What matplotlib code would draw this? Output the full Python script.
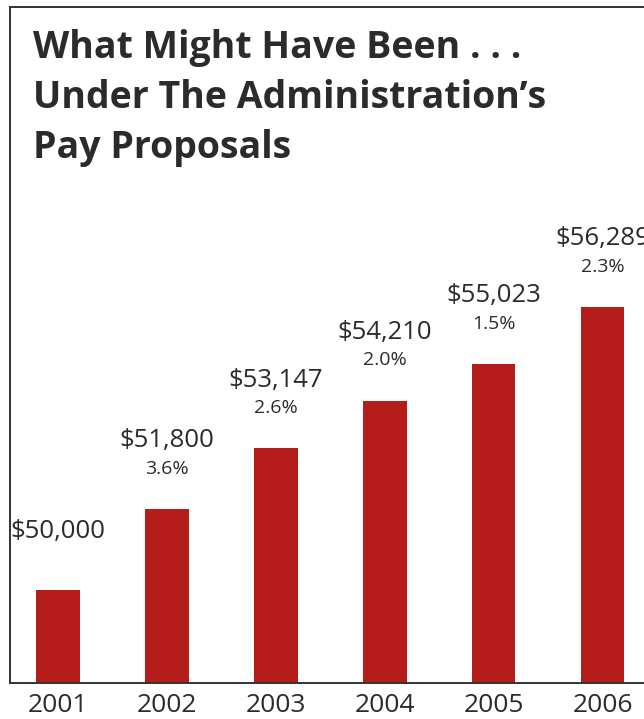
import matplotlib
matplotlib.use("Agg")
import matplotlib.pyplot as plt

years = ["2001", "2002", "2003", "2004", "2005", "2006"]
salary = [50000, 51800, 53147, 54210, 55023, 56289]
raise_pct = [None, 3.6, 2.6, 2.0, 1.5, 2.3]

red = "#b31c19"
ink = "#2b2b2b"
plt.rcParams["font.family"] = ["Open Sans", "DejaVu Sans"]

fig = plt.figure(figsize=(6.44, 7.19), dpi=100)
ax = fig.add_axes([10 / 644, 36 / 719, 634 / 644, 676 / 719])

x = list(range(len(years)))
ax.bar(x, salary, width=0.4, color=red, zorder=2)

ax.set_xlim(-0.44, 5.38)
ax.set_ylim(47930, 62960)
ax.set_xticks(x)
ax.set_xticklabels(years, fontsize=19, color=ink)
ax.tick_params(axis="x", length=0, pad=7)
ax.set_yticks([])

for s in ["left", "top", "bottom"]:
    ax.spines[s].set_linewidth(1.4)
    ax.spines[s].set_color("#333333")
ax.spines["right"].set_visible(False)

# dollar amount and yearly raise above each bar
for i, v in enumerate(salary):
    p = raise_pct[i]
    if p is None:
        ax.annotate(f"${v:,}", (i, v), xytext=(0, 42), textcoords="offset points",
                    ha="center", va="center", fontsize=18.5, color=ink, clip_on=False)
    else:
        ax.annotate(f"${v:,}", (i, v), xytext=(0, 49), textcoords="offset points",
                    ha="center", va="center", fontsize=18.5, color=ink, clip_on=False)
        ax.annotate(f"{p:.1f}%", (i, v), xytext=(0, 29), textcoords="offset points",
                    ha="center", va="center", fontsize=14, color=ink, clip_on=False)

title_lines = ["What Might Have Been . . .", "Under The Administration\u2019s", "Pay Proposals"]
for k, line in enumerate(title_lines):
    fig.text(33 / 644, 1 - (48 + 50 * k) / 719, line, fontsize=27,
             fontweight="bold", color=ink, va="center")

fig.savefig("out.png", dpi=100)
